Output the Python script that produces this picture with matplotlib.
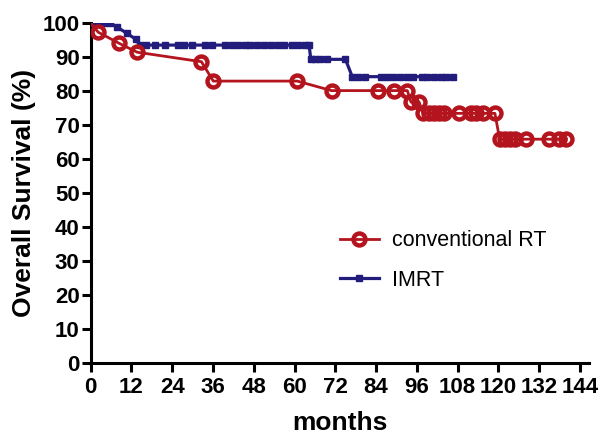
import matplotlib
matplotlib.use('Agg')
import matplotlib.pyplot as plt
from matplotlib.lines import Line2D

plt.rcParams['font.family'] = ['Liberation Sans', 'DejaVu Sans']

# conventional RT: время (мес) и выживаемость (%)
conv_months = [0, 2.2, 8.4, 13.7, 32.6, 36.1, 60.8, 70.9, 84.5, 89.2, 93.2,
               94.3, 96.7, 97.8, 99.5, 101.0, 102.5, 104.0, 108.5, 112.0,
               113.5, 115.5, 119.0, 120.4, 122.0, 123.5, 125.0, 128.2,
               134.8, 137.8, 140.0]
conv_surv = [100, 97.3, 94.0, 91.4, 88.6, 82.9, 82.9, 80.1, 80.1, 80.1, 80.1,
             76.7, 76.7, 73.4, 73.4, 73.4, 73.4, 73.4, 73.4, 73.4,
             73.4, 73.4, 73.4, 65.8, 65.8, 65.8, 65.8, 65.8,
             65.8, 65.8, 65.8]

# IMRT
imrt_months = [0, 2.2, 3.8, 5.6, 7.6, 10.6, 13.3, 14.5, 16.4, 18.9, 21.9,
               25.7, 27.5, 29.8, 33.6, 35.6, 39.5, 41.5, 43.5, 45.5, 47.0,
               49.0, 51.0, 53.0, 55.0, 57.0, 59.4, 61.0, 63.0, 64.3,
               64.8, 66.0, 67.5, 69.5, 75.0,
               77.0, 78.7, 80.7, 85.5, 87.3, 89.0, 91.0, 93.0, 95.0, 97.4,
               99.1, 101.0, 103.0, 104.6, 106.7]
imrt_surv = [100, 100, 100, 100, 98.9, 97.0, 95.2] + [93.5] * 23 + \
            [89.3] * 5 + [84.2] * 15

x_ticks = list(range(0, 145, 12))
y_ticks = list(range(0, 101, 10))

red = '#B3141D'
blue = '#221C7C'

fig = plt.figure(figsize=(6.02, 4.38), dpi=100)
ax = fig.add_axes([90.7 / 602, 1 - 362.7 / 438, (589 - 90.7) / 602, (362.7 - 23) / 438])

# IMRT
ax.plot(imrt_months, imrt_surv, color=blue, lw=2.3, marker='s', ms=4.5,
        mfc=blue, mec=blue, zorder=3)

# conventional RT - линия от 0, кружки без первой точки
ax.plot(conv_months, conv_surv, color=red, lw=2.0, zorder=4)
ax.plot(conv_months[1:], conv_surv[1:], ls='none', marker='o', ms=8.6,
        mfc='none', mec=red, mew=3.2, zorder=5)

ax.set_xlim(0, 146.7)
ax.set_ylim(0, 100)
ax.set_xticks(x_ticks)
ax.set_yticks(y_ticks)

for s in ['top', 'right']:
    ax.spines[s].set_visible(False)
for s in ['left', 'bottom']:
    ax.spines[s].set_linewidth(2.2)
ax.tick_params(axis='both', length=6.5, width=2.2, labelsize=16)
ax.tick_params(axis='x', pad=4)
ax.tick_params(axis='y', pad=1.5)
for lbl in ax.get_xticklabels() + ax.get_yticklabels():
    lbl.set_fontweight('bold')

ax.set_xlabel('months', fontsize=19, fontweight='bold', labelpad=9)
ax.set_ylabel('Overall Survival (%)', fontsize=19, fontweight='bold', labelpad=5)

handles = [
    Line2D([], [], color=red, lw=2.0, marker='o', ms=8.6, mfc='none', mec=red, mew=3.2),
    Line2D([], [], color=blue, lw=2.3, marker='s', ms=4.5, mfc=blue, mec=blue),
]
ax.legend(handles, ['conventional RT', 'IMRT'], loc='upper left',
          bbox_to_anchor=(0.5, 0.39), frameon=False, fontsize=15.5,
          handlelength=1.8, handletextpad=0.6, labelspacing=0.85,
          borderpad=0, borderaxespad=0, numpoints=1)

fig.savefig('out.png', dpi=100)
